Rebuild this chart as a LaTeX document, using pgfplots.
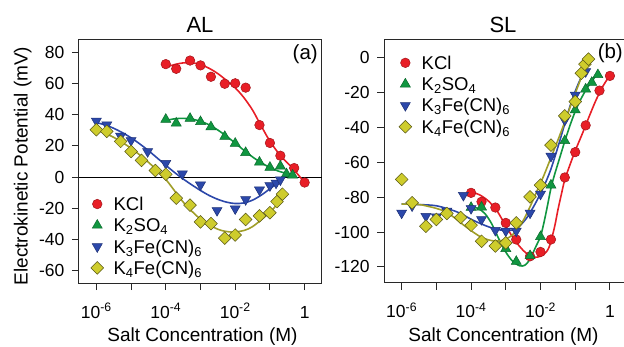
\documentclass[border=0pt]{standalone}
\usepackage{fontspec}
\setmainfont{Liberation Sans}
\usepackage{pgfplots}
\usepackage{pgfplotstable}
\pgfplotsset{compat=1.18}

\definecolor{cRed}{RGB}{232,30,38}
\definecolor{cGreen}{RGB}{16,150,64}
\definecolor{cBlue}{RGB}{44,72,170}
\definecolor{cYel}{RGB}{206,204,44}
\definecolor{cOlive}{RGB}{160,158,40}
\definecolor{axgray}{RGB}{40,40,40}

\newcommand{\tickfont}{\fontsize{17.5}{17.5}\selectfont}
\newcommand{\labfont}{\fontsize{19}{19}\selectfont}
\newcommand{\legfont}{\fontsize{18.5}{18.5}\selectfont}

\pgfplotsset{
  every axis/.append style={
    scale only axis, width=243pt, height=243pt,
    xmin=3.1623e-7, xmax=3.1623,
    xtick={1e-6,1e-5,1e-4,1e-3,1e-2,1e-1,1},
    xticklabels={10\textsuperscript{-6},,10\textsuperscript{-4},,10\textsuperscript{-2},,1},
    xminorticks=false, yminorticks=false,
    tick align=outside, tick pos=left,
    major tick length=7pt,
    axis line style={line width=1pt, axgray},
    every tick/.style={axgray, line width=1pt},
    ticklabel style={font=\tickfont},
    xticklabel style={anchor=base, inner sep=0pt, yshift=-28pt},
    yticklabel style={inner sep=0pt, xshift=-7.5pt},
    legend cell align=left,
    legend style={draw=none, fill=none, inner sep=0pt, outer sep=0pt,
      row sep=2.3pt, column sep=9pt, font=\legfont,
      nodes={inner sep=1pt, text height=15pt, text depth=2pt}},
  },
  fitline/.style={smooth, tension=0.5, line width=1.6pt, no marks, forget plot},
  mKCl/.style={only marks, mark=*, mark size=4.8pt,
    mark options={fill=cRed, draw=cRed!70!black, line width=0.5pt}},
  mSO/.style={only marks, mark=triangle*, mark size=5.8pt,
    mark options={fill=cGreen, draw=cGreen!70!black, line width=0.5pt}},
  mFe3/.style={only marks, mark=triangle*, mark size=5.8pt,
    mark options={rotate=180, fill=cBlue, draw=cBlue!70!black, line width=0.5pt}},
  mFe4/.style={only marks, mark=square*, mark size=4.5pt,
    mark options={rotate=45, fill=cYel, draw=black!45!cOlive, line width=0.5pt}},
}

% ---------- AL : measured points ----------
\pgfplotstableread{
c      v
1e-4   72.5
2e-4   69.5
5e-4   74.8
1e-3   71.7
2e-3   64.4
5e-3   59.9
1e-2   60.2
2e-2   57.4
5e-2   33.4
0.1    21.9
0.2    13.7
0.5    5.8
1      -3.5
}\ALkcl
\pgfplotstableread{
c      v
1e-4   37.0
2e-4   34.6
5e-4   37.6
1e-3   35.5
2e-3   32.2
5e-3   26.0
1e-2   21.6
2e-2   15.7
5e-2   9.5
0.1    6.2
0.2    7.0
0.3    2.0
0.45   1.2
}\ALso
\pgfplotstableread{
c      v
1e-6   36.0
2e-6   33.6
5e-6   26.3
1e-5   23.5
3e-5   16.4
1e-4   8.8
3e-4   2.1
1e-3   -5.0
3e-3   -21.4
1e-2   -20.3
2e-2   -14.4
5e-2   -8.2
0.1    -5.5
0.15   -3.8
0.2    -1.7
}\ALfeiii
\pgfplotstableread{
c      v
1e-6   30.4
2e-6   29.3
5e-6   22.9
1e-5   16.4
2e-5   10.7
5e-5   4.2
1e-4   1.8
2e-4   -13.5
5e-4   -18.0
1e-3   -28.8
2e-3   -29.9
5e-3   -39.2
1e-2   -37.2
2e-2   -27.2
5e-2   -24.9
0.1    -22.9
0.16   -15.7
0.23   -11.0
}\ALfeiv

% ---------- AL : fitted curves ----------
\pgfplotstableread{
c         v
1e-4      70.5
1.778e-4  72.2
3.162e-4  73.3
5.623e-4  73.4
1e-3      72.2
1.778e-3  69.8
3.162e-3  66.4
5.623e-3  62.0
1e-2      57.3
1.778e-2  51.0
3.162e-2  43.0
5.012e-2  34.8
0.1       23.0
0.1995    13.8
0.3162    9.2
0.5012    4.5
1         -3.5
}\ALkclfit
\pgfplotstableread{
c         v
1e-4      36.3
1.778e-4  37.4
3.162e-4  37.7
5.623e-4  37.2
1e-3      35.8
1.778e-3  33.5
3.162e-3  30.2
5.623e-3  26.2
1e-2      21.8
1.778e-2  17.2
3.162e-2  12.9
5.623e-2  9.2
0.1       6.1
0.1778    3.8
0.3162    2.2
0.4467    1.5
}\ALsofit
\pgfplotstableread{
c         v
1e-6      35.0
1.778e-6  33.5
3.162e-6  31.3
5.623e-6  28.5
1e-5      25.2
1.778e-5  21.3
3.162e-5  17.0
5.623e-5  12.3
1e-4      7.6
1.778e-4  3.0
3.162e-4  -1.2
5.623e-4  -5.0
1e-3      -8.6
1.778e-3  -11.8
3.162e-3  -14.3
5.623e-3  -16.1
1e-2      -17.0
1.778e-2  -16.6
3.162e-2  -14.8
5.623e-2  -11.6
0.1       -7.5
0.1778    -3.3
0.2512    -0.5
}\ALfeiiifit
\pgfplotstableread{
c         v
1e-6      30.5
3.162e-6  25.5
1e-5      18.5
3.162e-5  9.5
1e-4      -1.5
3.162e-4  -16.0
1e-3      -27.0
3.162e-3  -33.5
7.943e-3  -35.3
1.778e-2  -34.3
3.162e-2  -31.8
6.310e-2  -26.5
0.1       -22.5
0.1585    -17.8
0.2512    -12.5
}\ALfeivfit

% ---------- SL : measured points ----------
\pgfplotstableread{
c      v
1e-4   -77.6
2e-4   -82.7
5e-4   -86.0
1e-3   -94.8
2e-3   -104.3
5e-3   -113.9
1e-2   -111.4
2e-2   -104.3
5e-2   -68.8
0.1    -54.3
0.2    -39.0
0.5    -19.1
1      -10.7
}\SLkcl
\pgfplotstableread{
c      v
1e-4   -86.0
2e-4   -85.8
1e-3   -109.5
2e-3   -116.9
5e-3   -113.6
1e-2   -102.7
2e-2   -73.2
5e-2   -47.8
0.1    -30.2
0.2    -18.3
0.3    -14.5
0.45   -10.1
}\SLso
\pgfplotstableread{
c      v
1e-6   -89.1
2e-6   -85.0
5e-6   -91.0
1e-5   -91.3
2e-5   -88.0
6e-5   -79.0
1e-4   -86.5
2e-4   -92.8
5e-4   -99.0
1e-3   -99.4
2e-3   -99.4
5e-3   -89.1
1e-2   -78.3
2e-2   -56.6
5e-2   -36.0
0.1    -21.6
0.2    -8.2
}\SLfeiii
\pgfplotstableread{
c      v
1e-6   -69.9
2e-6   -83.3
5e-6   -96.7
1e-5   -92.8
2e-5   -89.4
5e-5   -91.7
1e-4   -96.1
2e-4   -105.3
5e-4   -108.0
1e-3   -106.2
2e-3   -94.8
5e-3   -79.9
1e-2   -73.2
2e-2   -50.3
5e-2   -33.6
0.1    -25.4
0.15   -9.2
0.19   -4.0
0.24   -1.1
}\SLfeiv

% ---------- SL : fitted curves ----------
\pgfplotstableread{
c         v
1e-4      -77.0
1.778e-4  -78.8
3.162e-4  -82.3
5.623e-4  -88.0
1e-3      -96.5
1.778e-3  -104.5
3.162e-3  -110.5
5.012e-3  -113.7
7.943e-3  -114.4
1.259e-2  -112.8
1.778e-2  -108.5
2.512e-2  -97.5
3.162e-2  -87.5
3.981e-2  -78.5
5.012e-2  -70.0
7.079e-2  -61.5
0.1       -53.5
0.1585    -44.0
0.2512    -34.0
0.3981    -24.5
0.6310    -16.5
1         -10.5
}\SLkclfit
\pgfplotstableread{
c         v
1e-4      -85.5
1.585e-4  -86.5
2.512e-4  -89.5
3.981e-4  -95.5
6.310e-4  -104.0
1e-3      -111.5
1.585e-3  -116.8
2.512e-3  -119.3
3.548e-3  -119.0
5.012e-3  -115.5
7.079e-3  -109.0
1e-2      -102.5
1.259e-2  -94.5
1.585e-2  -85.0
1.995e-2  -75.0
2.512e-2  -67.5
3.162e-2  -61.0
3.981e-2  -54.5
5.012e-2  -48.0
7.079e-2  -39.0
0.1       -31.0
0.1413    -24.5
0.1995    -19.0
0.2818    -14.5
0.3981    -10.5
}\SLsofit
\pgfplotstableread{
c         v
1e-6      -84.0
3.162e-6  -84.3
1e-5      -85.0
3.162e-5  -87.8
5.623e-5  -90.0
1e-4      -92.7
1.778e-4  -95.0
3.162e-4  -97.0
5.623e-4  -98.5
1e-3      -99.2
1.585e-3  -98.8
2.512e-3  -96.5
3.981e-3  -92.0
6.310e-3  -85.5
1e-2      -78.0
1.413e-2  -71.5
1.995e-2  -64.0
3.162e-2  -51.5
5.012e-2  -38.0
7.079e-2  -28.0
0.1       -19.5
0.1413    -12.5
0.1995    -7.0
}\SLfeiiifit
\pgfplotstableread{
c         v
1e-6      -84.0
3.162e-6  -84.3
6.310e-6  -85.5
1e-5      -86.5
1.778e-5  -88.3
3.162e-5  -91.5
5.623e-5  -95.5
1e-4      -99.2
1.778e-4  -102.5
3.162e-4  -104.5
5.012e-4  -105.2
7.943e-4  -104.8
1.259e-3  -103.0
1.995e-3  -99.5
3.162e-3  -93.5
5.012e-3  -85.5
7.943e-3  -76.5
1.259e-2  -67.5
1.995e-2  -57.5
3.162e-2  -47.5
5.012e-2  -37.0
7.943e-2  -26.0
0.1259    -15.5
0.1778    -7.5
0.2399    -1.0
}\SLfeivfit

\begin{document}
\begin{tikzpicture}[x=1pt,y=1pt]
\useasboundingbox (0,0) rectangle (624,346);

% ----- left panel: AL -----
\begin{semilogxaxis}[at={(79pt,63pt)}, anchor=south west,
  ymin=-68, ymax=88,
  ytick={-60,-40,-20,0,20,40,60,80},
  yticklabels={-60,-40,-20,0,20,40,60,80},
  legend style={at={(0.049,0.364)}, anchor=north west}]
  \addplot[black, line width=1pt, forget plot] coordinates {(3.1623e-7,0) (3.1623,0)};
  \addplot[fitline, cRed]   table[x=c,y=v] {\ALkclfit};
  \addplot[fitline, cGreen] table[x=c,y=v] {\ALsofit};
  \addplot[fitline, cBlue]  table[x=c,y=v] {\ALfeiiifit};
  \addplot[fitline, cOlive] table[x=c,y=v] {\ALfeivfit};
  \addplot[mKCl] table[x=c,y=v] {\ALkcl};
  \addlegendentry{KCl}
  \addplot[mSO] table[x=c,y=v] {\ALso};
  \addlegendentry{K\textsubscript{2}SO\textsubscript{4}}
  \addplot[mFe3] table[x=c,y=v] {\ALfeiii};
  \addlegendentry{K\textsubscript{3}Fe(CN)\textsubscript{6}}
  \addplot[mFe4] table[x=c,y=v] {\ALfeiv};
  \addlegendentry{K\textsubscript{4}Fe(CN)\textsubscript{6}}
\end{semilogxaxis}

% ----- right panel: SL (its right edge runs off the page) -----
\begin{semilogxaxis}[at={(384.3pt,63.3pt)}, anchor=south west,
  axis y line*=left,
  ymin=-129, ymax=10,
  ytick={-120,-100,-80,-60,-40,-20,0},
  yticklabels={-120,-100,-80,-60,-40,-20,0},
  legend style={at={(0.0605,0.944)}, anchor=north west}]
  \addplot[fitline, cRed]   table[x=c,y=v] {\SLkclfit};
  \addplot[fitline, cGreen] table[x=c,y=v] {\SLsofit};
  \addplot[fitline, cBlue]  table[x=c,y=v] {\SLfeiiifit};
  \addplot[fitline, cOlive] table[x=c,y=v] {\SLfeivfit};
  \addplot[mKCl] table[x=c,y=v] {\SLkcl};
  \addlegendentry{KCl}
  \addplot[mSO] table[x=c,y=v] {\SLso};
  \addlegendentry{K\textsubscript{2}SO\textsubscript{4}}
  \addplot[mFe3] table[x=c,y=v] {\SLfeiii};
  \addlegendentry{K\textsubscript{3}Fe(CN)\textsubscript{6}}
  \addplot[mFe4] table[x=c,y=v] {\SLfeiv};
  \addlegendentry{K\textsubscript{4}Fe(CN)\textsubscript{6}}
\end{semilogxaxis}

% ----- titles, axis labels, panel tags -----
\node[anchor=base, font=\fontsize{22}{22}\selectfont] at (200,313.5) {AL};
\node[anchor=base, font=\fontsize{22}{22}\selectfont] at (503,313.5) {SL};
\node[anchor=base, font=\labfont] at (202.5,4.5) {Salt Concentration (M)};
\node[anchor=base, font=\labfont] at (503.5,4.5) {Salt Concentration (M)};
\node[anchor=base, rotate=90, font=\labfont] at (27.7,180) {Electrokinetic Potential (mV)};
\node[anchor=base east, inner sep=0pt, font=\fontsize{20.5}{20.5}\selectfont] at (318,286) {(a)};
\node[anchor=base east, inner sep=0pt, font=\fontsize{20.5}{20.5}\selectfont] at (623,287) {(b)};
\end{tikzpicture}
\end{document}
